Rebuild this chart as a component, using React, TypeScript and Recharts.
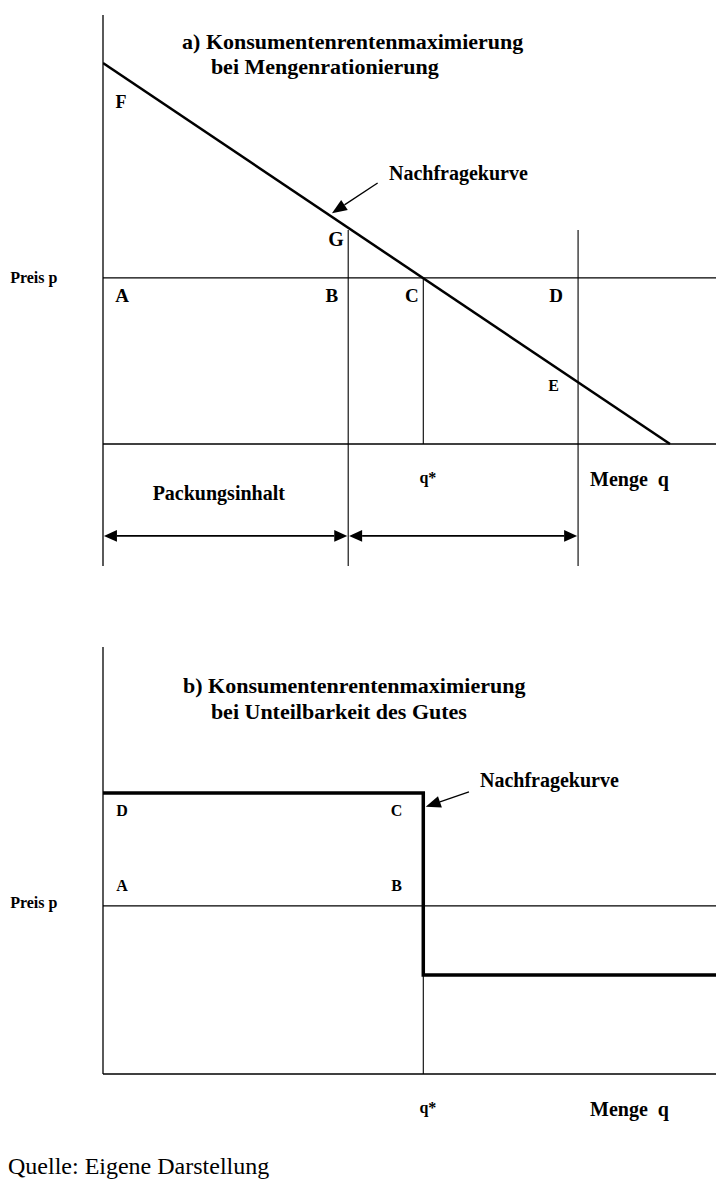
import { LineChart, Line, XAxis, YAxis, ReferenceLine, ReferenceDot } from "recharts"

// panel a) – straight demand curve, quantity rationing
const demandCurve = [
  { q: 0, p: 10 },
  { q: 18.5, p: 0 },
]
const packQ = 8 // B
const qStar = 10.45 // C, q*
const qLimit = 15.5 // D
const marketPrice = 4.36
const guideTop = 5.62
const arrowRowA = -2.41

// panel b) – step demand, indivisible good
const stepCurve = [
  { q: 0, p: 7.37 },
  { q: 10.45, p: 7.37 },
  { q: 10.45, p: 2.6 },
  { q: 20, p: 2.6 },
]
const marketPriceB = 4.41

const domainA: [number, number] = [-3.2, 11.26]
const domainB: [number, number] = [0, 11.2]
const qDomain: [number, number] = [0, 20]

// text labels: [text, q, p, fontSize, anchor]
type Lbl = [string, number, number, number, "start" | "middle"]
const labelsA: Lbl[] = [
  ["a) Konsumentenrentenmaximierung", 2.58, 10.56, 22, "start"],
  ["bei Mengenrationierung", 3.52, 9.9, 22, "start"],
  ["F", 0.59, 8.98, 18, "middle"],
  ["Nachfragekurve", 9.33, 7.12, 20, "start"],
  ["G", 7.6, 5.38, 20, "middle"],
  ["Preis p", -3.03, 4.38, 16, "start"],
  ["A", 0.62, 3.91, 19, "middle"],
  ["B", 7.47, 3.91, 19, "middle"],
  ["C", 10.08, 3.91, 19, "middle"],
  ["D", 14.78, 3.91, 19, "middle"],
  ["E", 14.7, 1.55, 16, "middle"],
  ["q*", 10.6, -0.89, 16, "middle"],
  ["Menge  q", 15.89, -0.92, 20, "start"],
  ["Packungsinhalt", 1.62, -1.29, 20, "start"],
]
const labelsB: Lbl[] = [
  ["b) Konsumentenrentenmaximierung", 2.61, 10.18, 22, "start"],
  ["bei Unteilbarkeit des Gutes", 3.52, 9.52, 22, "start"],
  ["Nachfragekurve", 12.3, 7.71, 20, "start"],
  ["D", 0.62, 6.92, 16, "middle"],
  ["C", 9.58, 6.92, 16, "middle"],
  ["A", 0.62, 4.94, 16, "middle"],
  ["B", 9.58, 4.94, 16, "middle"],
  ["Preis p", -3.03, 4.49, 16, "start"],
  ["q*", 10.6, -0.88, 16, "middle"],
  ["Menge  q", 15.89, -0.92, 20, "start"],
]

const serif = "'Liberation Serif', 'Times New Roman', serif"

const textShape = (text: string, size: number, anchor: string) => (props: any) => (
  <text
    x={props.cx}
    y={props.cy}
    fontSize={size}
    fontFamily={serif}
    fontWeight="bold"
    textAnchor={anchor}
    dominantBaseline="central"
    fill="#000"
    style={{ whiteSpace: "pre" }}
  >
    {text}
  </text>
)

function head(tx: number, ty: number, fx: number, fy: number, len: number, half: number) {
  const d = Math.hypot(tx - fx, ty - fy) || 1
  const ux = (tx - fx) / d
  const uy = (ty - fy) / d
  const bx = tx - ux * len
  const by = ty - uy * len
  return {
    base: [bx, by],
    pts: `${tx},${ty} ${bx - uy * half},${by + ux * half} ${bx + uy * half},${by - ux * half}`,
  }
}

const arrowShape = (both: boolean, len: number, half: number, width: number) => (props: any) => {
  const { x1, y1, x2, y2 } = props
  const end = head(x2, y2, x1, y1, len, half)
  const start = both ? head(x1, y1, x2, y2, len, half) : null
  const sx = start ? start.base[0] : x1
  const sy = start ? start.base[1] : y1
  return (
    <g>
      <line x1={sx} y1={sy} x2={end.base[0]} y2={end.base[1]} stroke="#000" strokeWidth={width} />
      <polygon points={end.pts} fill="#000" />
      {start && <polygon points={start.pts} fill="#000" />}
    </g>
  )
}

const seg = (a: [number, number], b: [number, number], w = 1.2, key?: string) => (
  <ReferenceLine
    key={key}
    segment={[
      { x: a[0], y: a[1] },
      { x: b[0], y: b[1] },
    ]}
    stroke="#000"
    strokeWidth={w}
    ifOverflow="visible"
  />
)

const renderLabels = (list: Lbl[], prefix: string) =>
  list.map(([t, q, p, s, a], i) => (
    <ReferenceDot key={prefix + i} x={q} y={p} r={0} ifOverflow="visible" shape={textShape(t, s, a)} />
  ))

export default function App() {
  return (
    <div style={{ position: "relative", width: 712, height: 1181 }}>
      <div style={{ position: "absolute", left: 0, top: 0 }}>
        <LineChart width={712} height={600} margin={{ top: 7, right: 4, bottom: 42, left: 95 }}>
          <XAxis type="number" dataKey="q" domain={qDomain} allowDataOverflow hide />
          <YAxis type="number" dataKey="p" domain={domainA} allowDataOverflow hide />
          {seg([0, domainA[0]], [0, domainA[1]], 1.3)}
          {seg([0, 0], [20, 0], 1.5)}
          {seg([0, marketPrice], [20, marketPrice], 1.3)}
          {seg([packQ, domainA[0]], [packQ, guideTop], 1.1)}
          {seg([qLimit, domainA[0]], [qLimit, guideTop], 1.1)}
          {seg([qStar, 0], [qStar, marketPrice], 1.1)}
          <ReferenceLine
            segment={[{ x: 0.03, y: arrowRowA }, { x: packQ - 0.03, y: arrowRowA }]}
            ifOverflow="visible"
            shape={arrowShape(true, 13, 5.8, 1.8)}
          />
          <ReferenceLine
            segment={[{ x: packQ + 0.03, y: arrowRowA }, { x: qLimit - 0.03, y: arrowRowA }]}
            ifOverflow="visible"
            shape={arrowShape(true, 13, 5.8, 1.8)}
          />
          <ReferenceLine
            segment={[{ x: 8.96, y: 6.85 }, { x: 7.47, y: 6.06 }]}
            ifOverflow="visible"
            shape={arrowShape(false, 15, 6, 1.3)}
          />
          <Line
            data={demandCurve}
            dataKey="p"
            stroke="#000"
            strokeWidth={2.5}
            dot={false}
            isAnimationActive={false}
          />
          {renderLabels(labelsA, "a")}
        </LineChart>
      </div>
      <div style={{ position: "absolute", left: 0, top: 600 }}>
        <LineChart width={712} height={520} margin={{ top: 39, right: 4, bottom: 54, left: 95 }}>
          <XAxis type="number" dataKey="q" domain={qDomain} allowDataOverflow hide />
          <YAxis type="number" dataKey="p" domain={domainB} allowDataOverflow hide />
          {seg([0, 0], [0, domainB[1]], 1.3)}
          {seg([0, 0], [20, 0], 1.5)}
          {seg([0, marketPriceB], [20, marketPriceB], 1.3)}
          {seg([qStar, 0], [qStar, 7.37], 1.1)}
          <ReferenceLine
            segment={[{ x: 11.94, y: 7.4 }, { x: 10.53, y: 7.01 }]}
            ifOverflow="visible"
            shape={arrowShape(false, 15, 6, 1.3)}
          />
          <Line
            data={stepCurve}
            dataKey="p"
            stroke="#000"
            strokeWidth={3.5}
            strokeLinejoin="miter"
            dot={false}
            isAnimationActive={false}
          />
          {renderLabels(labelsB, "b")}
        </LineChart>
      </div>
      <div
        style={{
          position: "absolute",
          left: 0,
          top: 1144,
          fontFamily: serif,
          fontSize: 24,
          lineHeight: "28px",
          whiteSpace: "nowrap",
        }}
      >
        Quelle: Eigene Darstellung
      </div>
    </div>
  )
}
